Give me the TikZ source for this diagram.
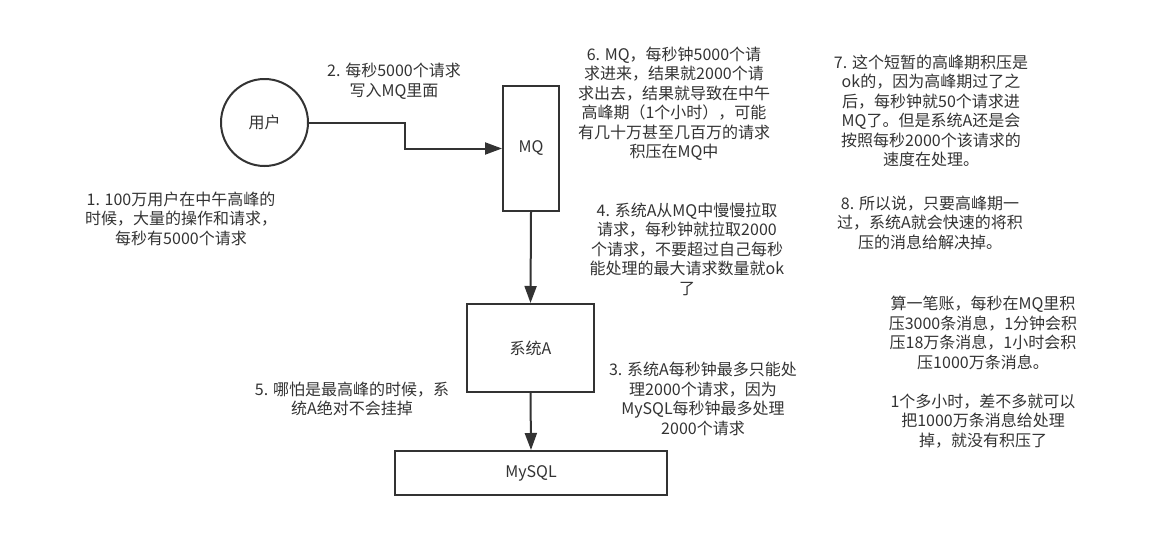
\documentclass[tikz,border=0pt]{standalone}
\usepackage{fontspec}
\setmainfont{Noto Sans CJK SC}
\usetikzlibrary{arrows.meta}
\definecolor{ink}{HTML}{333333}
\tikzset{
  box/.style={draw=ink, line width=2pt, fill=white, inner sep=0pt, text=ink, font=\fontsize{16}{19.5}\selectfont},
  note/.style={align=center, text=ink, inner sep=0pt, font=\fontsize{16}{19.5}\selectfont},
  conn/.style={draw=ink, line width=2pt, -{Triangle[length=17pt,width=12pt]}},
}
\begin{document}
\begin{tikzpicture}[x=1pt,y=-1pt]
\useasboundingbox (0,0) rectangle (1157,549);
\node[box, circle, minimum size=87pt] (user) at (264.5,122.5) {用户};
\node[box, minimum width=56pt, minimum height=125pt] (mq) at (531,148.5) {MQ};
\node[box, minimum width=127pt, minimum height=88pt] (sysa) at (530.5,348) {系统A};
\node[box, minimum width=272pt, minimum height=44pt] (mysql) at (531,473) {MySQL};
\coordinate (bend) at (405,122.5);
\draw[conn] (user.east) -- (bend) |- (mq.west);
\draw[conn] (mq.south) -- (sysa.north);
\draw[conn] (sysa.south) -- (mysql.north);

\node[note] (t2) at (394,81) {2. 每秒5000个请求\\写入MQ里面};
\node[note] (t6) at (674,103.5) {6. MQ，每秒钟5000个请\\求进来，结果就2000个请\\求出去，结果就导致在中午\\高峰期（1个小时），可能\\有几十万甚至几百万的请求\\积压在MQ中};
\node[note] (t7) at (931,111) {7. 这个短暂的高峰期积压是\\ok的，因为高峰期过了之\\后，每秒钟就50个请求进\\MQ了。但是系统A还是会\\按照每秒2000个该请求的\\速度在处理。};
\node[note] (t1) at (181,218.5) {1. 100万用户在中午高峰的\\时候，大量的操作和请求，\\每秒有5000个请求};
\node[note] (t4) at (687,249) {4. 系统A从MQ中慢慢拉取\\请求，每秒钟就拉取2000\\个请求，不要超过自己每秒\\能处理的最大请求数量就ok\\了};
\node[note] (t8) at (930,222.5) {8. 所以说，只要高峰期一\\过，系统A就会快速的将积\\压的消息给解决掉。};
\node[note] (t9) at (983,372) {算一笔账，每秒在MQ里积\\压3000条消息，1分钟会积\\压18万条消息，1小时会积\\压1000万条消息。\\[19.5pt]1个多小时，差不多就可以\\把1000万条消息给处理\\掉，就没有积压了};
\node[note] (t5) at (352,399) {5. 哪怕是最高峰的时候，系\\统A绝对不会挂掉};
\node[note] (t3) at (703,399) {3. 系统A每秒钟最多只能处\\理2000个请求，因为\\MySQL每秒钟最多处理\\2000个请求};
\end{tikzpicture}
\end{document}
